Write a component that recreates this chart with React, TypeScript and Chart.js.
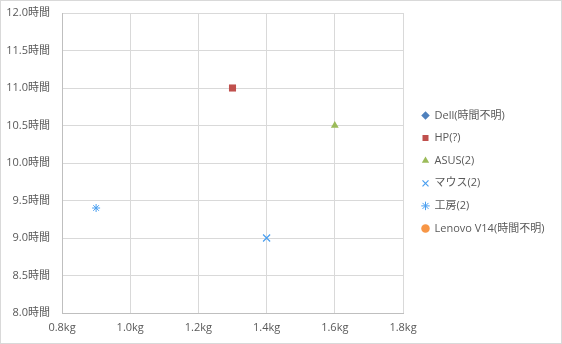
import React, { useEffect, useRef } from "react";
import { Chart, registerables } from "chart.js";

Chart.register(...registerables);

const seriesNames = ["Dell(時間不明)", "HP(?)", "ASUS(2)", "マウス(2)", "工房(2)", "Lenovo V14(時間不明)"];
const weightKg: (number | null)[] = [null, 1.3, 1.6, 1.4, 0.9, null];
const batteryHours: (number | null)[] = [null, 11.0, 10.5, 9.0, 9.4, null];
const seriesColors = ["#4F81BD", "#C0504D", "#9BBB59", "#4A9FF0", "#4A9FF0", "#F79646"];
const seriesStyles = ["rectRot", "rect", "triangle", "crossRot", "star", "circle"];
const seriesRadius = [4.5, 5, 4.5, 5, 4, 4];

const xTicks = { min: 0.8, max: 1.8, step: 0.2, unit: "kg" };
const yTicks = { min: 8.0, max: 12.0, step: 0.5, unit: "時間" };

const FONT = "'Open Sans', 'Noto Sans CJK JP', sans-serif";
const TEXT = "#595959";
const LEGEND_PAD = 11.6;
const LEGEND_LEFT = 410.4;

const borderPlugin = {
  id: "outerBorder",
  afterDraw(chart: any) {
    const ctx = chart.ctx;
    ctx.save();
    ctx.strokeStyle = "#D9D9D9";
    ctx.lineWidth = 1;
    ctx.strokeRect(0.5, 0.5, chart.width - 1, chart.height - 1);
    ctx.restore();
  },
};

export default function App() {
  const ref = useRef<HTMLCanvasElement>(null);
  useEffect(() => {
    document.body.style.margin = "0";
    // measure legend text so the legend box starts at the wanted spot
    const mctx = document.createElement("canvas").getContext("2d") as CanvasRenderingContext2D;
    mctx.font = `normal 11px ${FONT}`;
    let maxText = 0;
    seriesNames.forEach((n) => {
      maxText = Math.max(maxText, mctx.measureText(n).width);
    });
    const legendW = LEGEND_PAD + 7 + 5.5 + maxText + 10;
    const padRight = Math.max(0, 562 - LEGEND_LEFT - legendW);

    const datasets = seriesNames.map((name, i) => {
      const x = weightKg[i];
      const y = batteryHours[i];
      const style = seriesStyles[i];
      return {
        label: name,
        data: x !== null && y !== null ? [{ x, y }] : [],
        pointStyle: style,
        pointRadius: seriesRadius[i],
        pointHoverRadius: seriesRadius[i],
        backgroundColor: seriesColors[i],
        borderColor: seriesColors[i],
        borderWidth: style === "crossRot" ? 1.2 : style === "star" ? 1 : 0,
        xAxisID: "x",
        yAxisID: "y",
      };
    });
    const chart = new Chart(ref.current as HTMLCanvasElement, {
      type: "scatter",
      data: { datasets: datasets as any },
      plugins: [borderPlugin],
      options: {
        animation: false,
        responsive: false,
        devicePixelRatio: 1,
        layout: { padding: { top: 0, left: 0, right: padRight, bottom: 0 } },
        plugins: {
          tooltip: { enabled: false },
          legend: {
            position: "right",
            maxWidth: 300,
            labels: {
              usePointStyle: true,
              boxWidth: 7,
              boxHeight: 6,
              padding: LEGEND_PAD,
              color: TEXT,
              font: { family: FONT, size: 11 },
            },
          },
        },
        scales: {
          x: {
            type: "linear",
            position: "bottom",
            min: xTicks.min,
            max: xTicks.max,
            grid: { color: "#D9D9D9", drawTicks: false },
            border: { color: "#BFBFBF" },
            ticks: {
              stepSize: xTicks.step,
              padding: 8,
              color: TEXT,
              font: { family: FONT, size: 11 },
              callback: (v: any) => Number(v).toFixed(1) + xTicks.unit,
            },
            afterFit: (s: any) => {
              s.height = 31;
            },
          },
          y: {
            type: "linear",
            position: "left",
            min: yTicks.min,
            max: yTicks.max,
            grid: { color: "#D9D9D9", drawTicks: false },
            border: { color: "#BFBFBF" },
            ticks: {
              stepSize: yTicks.step,
              padding: 12,
              color: TEXT,
              font: { family: FONT, size: 11 },
              callback: (v: any) => Number(v).toFixed(1) + yTicks.unit,
            },
            afterFit: (s: any) => {
              s.width = 62;
              s.paddingTop = 13;
              s.paddingBottom = 0;
            },
          },
          yRightSpace: {
            type: "linear",
            axis: "y",
            position: "right",
            display: true,
            grid: { display: false, drawOnChartArea: false },
            border: { display: false },
            ticks: { display: false },
            afterFit: (s: any) => {
              s.width = 7.4;
            },
          },
        } as any,
      },
    });
    return () => chart.destroy();
  }, []);
  return (
    <div style={{ position: "absolute", left: 0, top: 0, width: 562, height: 344, background: "#fff" }}>
      <canvas ref={ref} width={562} height={344} style={{ display: "block" }} />
    </div>
  );
}
